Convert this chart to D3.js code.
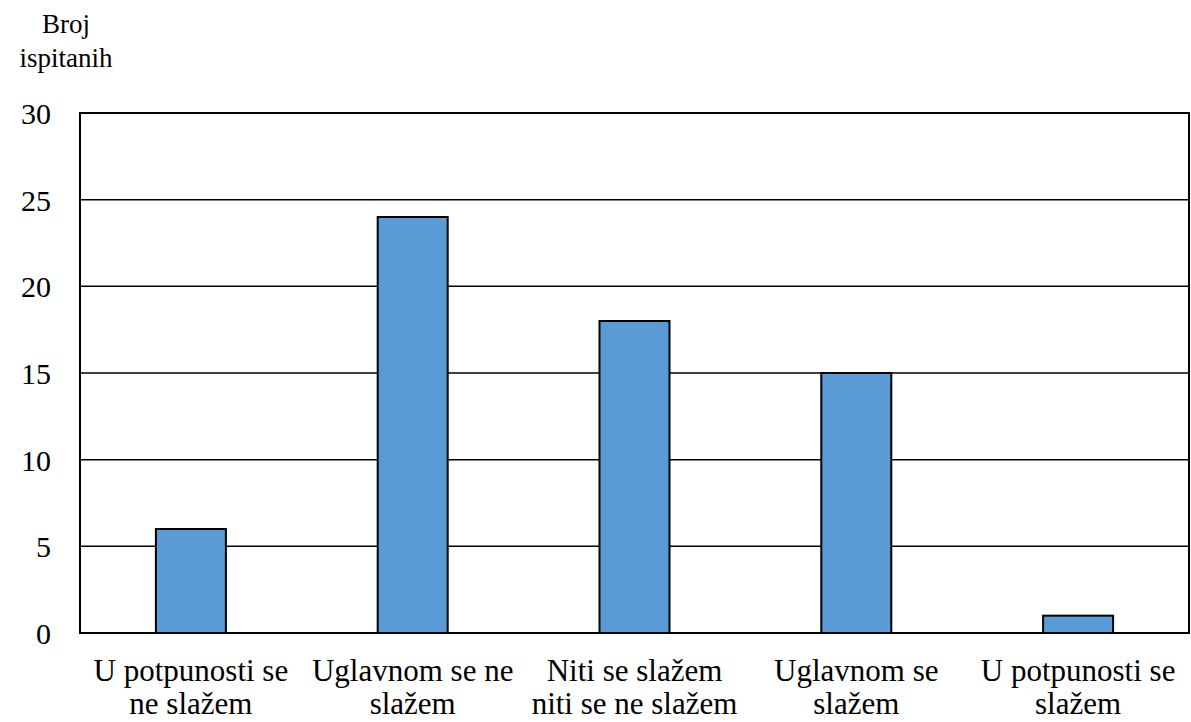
<!DOCTYPE html>
<meta charset="utf-8">
<body style="margin:0">
<svg width="1191" height="722" style="font-family:'Liberation Serif'"></svg>
<script src="https://d3js.org/d3.v7.min.js"></script>
<script>
  // data
  var categories = [
    ["U potpunosti se", "ne slažem"],
    ["Uglavnom se ne", "slažem"],
    ["Niti se slažem", "niti se ne slažem"],
    ["Uglavnom se", "slažem"],
    ["U potpunosti se", "slažem"]
  ];
  var counts = [6, 24, 18, 15, 1];
  var yTicks = [0, 5, 10, 15, 20, 25, 30];
  var yTitle = ["Broj", "ispitanih"];

  var serif = "'Liberation Serif'";

  var svg = d3.select("svg"),
    margin = { top: 113, right: 2, bottom: 89, left: 80 },
    width = +svg.attr("width") - margin.left - margin.right,
    height = +svg.attr("height") - margin.top - margin.bottom;

  var x = d3.scaleBand().domain(d3.range(categories.length)).range([0, width]),
    y = d3.scaleLinear().domain([0, 30]).range([height, 0]);

  var g = svg.append("g")
    .attr("transform", "translate(" + margin.left + "," + margin.top + ")");

  // horizontal gridlines
  g.append("g")
    .selectAll("line")
    .data(yTicks)
    .enter().append("line")
    .attr("x1", 0)
    .attr("x2", width)
    .attr("y1", function(d) { return y(d); })
    .attr("y2", function(d) { return y(d); })
    .attr("stroke", "#000")
    .attr("stroke-width", 1.5);

  // y axis labels
  var yAxis = d3.axisLeft(y).tickValues(yTicks).tickSize(0).tickPadding(29);
  var ya = g.append("g").call(yAxis);
  ya.select(".domain").remove();
  ya.attr("font-family", null).attr("font-size", null);
  ya.selectAll("text")
    .style("font-family", serif)
    .attr("font-size", 30)
    .attr("fill", "#000")
    .attr("dy", "0.35em");

  // bars
  var barW = 70;
  g.selectAll(".bar")
    .data(counts)
    .enter().append("rect")
    .attr("class", "bar")
    .attr("x", function(d, i) { return x(i) + x.bandwidth() / 2 - barW / 2; })
    .attr("y", function(d) { return y(d); })
    .attr("width", barW)
    .attr("height", function(d) { return height - y(d); })
    .attr("fill", "#5b9bd5")
    .attr("stroke", "#000")
    .attr("stroke-width", 2);

  // plot frame
  g.append("rect")
    .attr("width", width)
    .attr("height", height)
    .attr("fill", "none")
    .attr("stroke", "#000")
    .attr("stroke-width", 2);

  // category labels, two lines each
  categories.forEach(function(lines, i) {
    lines.forEach(function(s, j) {
      g.append("text")
        .attr("x", x(i) + x.bandwidth() / 2)
        .attr("y", height + 48 + j * 33)
        .attr("text-anchor", "middle")
        .attr("font-size", 31)
        .style("font-family", serif)
        .text(s);
    });
  });

  // y title
  yTitle.forEach(function(s, j) {
    svg.append("text")
      .attr("x", 66)
      .attr("y", 33 + j * 34)
      .attr("text-anchor", "middle")
      .attr("font-size", 27)
      .style("font-family", serif)
      .text(s);
  });
</script>
</body>
